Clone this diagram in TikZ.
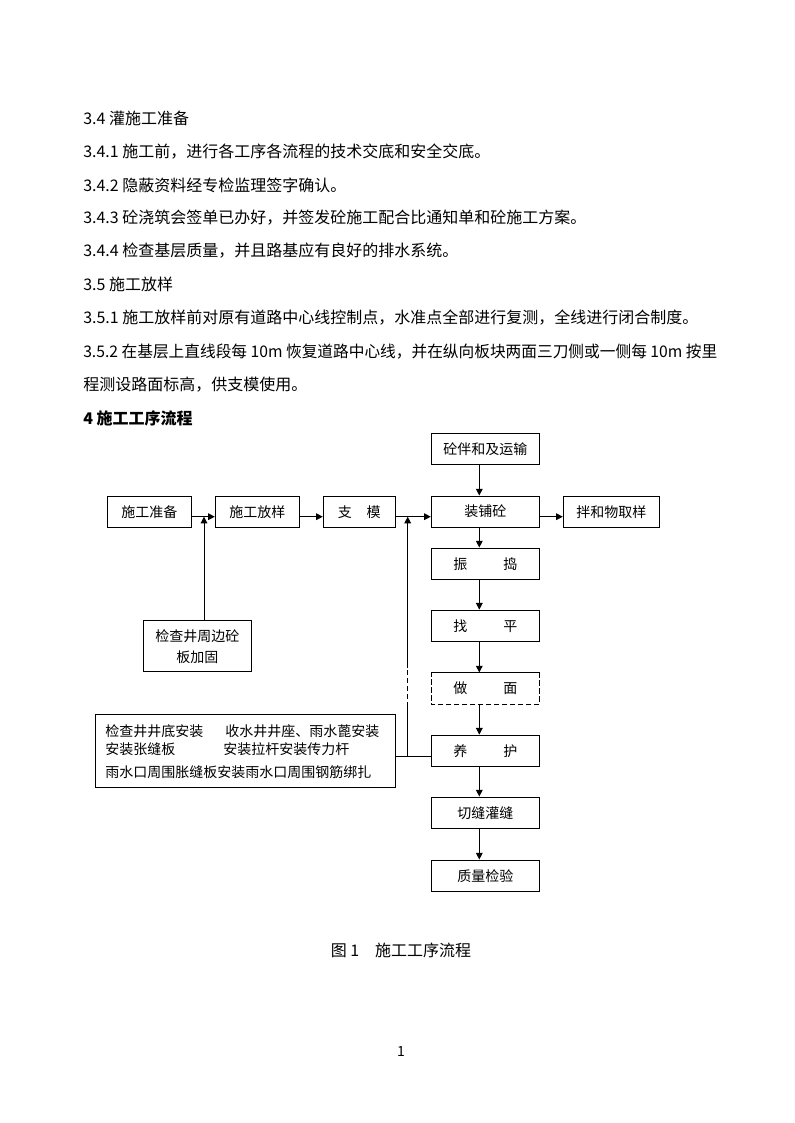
\documentclass[tikz,border=0pt]{standalone}
\usepackage{fontspec}
\setmainfont{Noto Sans CJK SC}
\usetikzlibrary{arrows.meta}
\begin{document}
\begin{tikzpicture}[x=0.75pt,y=-0.75pt,
  ln/.style={line width=0.75pt},
  arr/.style={line width=0.75pt,-{Triangle[length=5pt,width=5pt]}},
  box/.style={draw,line width=0.75pt,inner sep=0pt,minimum height=23.5pt,font=\fontsize{10.5}{12}\selectfont},
  nobox/.style={inner sep=0pt,minimum height=23.5pt,minimum width=81pt,font=\fontsize{10.5}{12}\selectfont},
  body/.style={anchor=west,inner sep=0pt,font=\fontsize{12}{14}\selectfont},
  small/.style={anchor=west,inner sep=0pt,font=\fontsize{10.5}{12}\selectfont},
  dsh/.style={line width=0.75pt,dash pattern=on 4pt off 2pt}]
\useasboundingbox[fill=white] (0,0) rectangle (794,1123);

% body text
\node[body] (t1) at (83,118) {3.4 灌施工准备};
\node[body] (t2) at (83,152) {3.4.1 施工前，进行各工序各流程的技术交底和安全交底。};
\node[body] (t3) at (83,185) {3.4.2 隐蔽资料经专检监理签字确认。};
\node[body] (t4) at (83,218) {3.4.3 砼浇筑会签单已办好，并签发砼施工配合比通知单和砼施工方案。};
\node[body] (t5) at (83,251) {3.4.4 检查基层质量，并且路基应有良好的排水系统。};
\node[body] (t6) at (83,284) {3.5 施工放样};
\node[body] (t7) at (83,318) {3.5.1 施工放样前对原有道路中心线控制点，水准点全部进行复测，全线进行闭合制度。};
\node[body] (t8) at (83,352) {\resizebox{475.5pt}{\height}{3.5.2 在基层上直线段每 10m 恢复道路中心线，并在纵向板块两面三刀侧或一侧每 10m 按里}};
\node[body] (t9) at (83,385) {程测设路面标高，供支模使用。};
\node[body,font=\fontsize{12}{14}\selectfont\bfseries] (t10) at (83,418) {4 施工工序流程};

% flowchart boxes
\node[box,minimum width=63pt] (prep) at (149.3,511.7) {施工准备};
\node[box,minimum width=63pt] (fang) at (257.3,511.7) {施工放样};
\node[box,minimum width=54pt] (zhi) at (359.3,511.7) {支\hspace{11pt}模};
\node[box,minimum width=81pt] (hun) at (485.3,448.8) {砼伴和及运输};
\node[box,minimum width=81pt] (pu) at (485.3,511.7) {装铺砼};
\node[box,minimum width=72pt] (qy) at (611.3,511.7) {拌和物取样};
\node[box,minimum width=81pt] (zd) at (485.3,563.7) {振\hspace{27pt}捣};
\node[box,minimum width=81pt] (zp) at (485.3,625.8) {找\hspace{27pt}平};
\node[nobox] (zm) at (485.3,688.4) {做\hspace{27pt}面};
\node[box,minimum width=81pt] (yh) at (485.3,750.8) {养\hspace{27pt}护};
\node[box,minimum width=81pt] (qf) at (485.3,812.7) {切缝灌缝};
\node[box,minimum width=81pt] (zl) at (485.3,875.7) {质量检验};
\node[box,minimum width=81pt,minimum height=38.5pt,align=center,
      font=\fontsize{10.5}{15.75}\selectfont] (jc) at (197.3,646.3) {检查井周边砼\\板加固};
\node[draw,line width=0.75pt,inner sep=0pt,minimum width=225pt,minimum height=55pt] (big) at (245.3,751) {};
\node[small] (b1) at (105,731) {检查井井底安装};
\node[small] (b2) at (225,731) {收水井井座、雨水蓖安装};
\node[small] (b3) at (105,749.3) {安装张缝板};
\node[small] (b4) at (223,749.3) {安装拉杆安装传力杆};
\node[small] (b5) at (105,772) {雨水口周围胀缝板安装雨水口周围钢筋绑扎};

% dashed box for 做面
\draw[ln] (zm.north west) -- (zm.north east);
\draw[dsh] (zm.north east) -- (zm.south east) -- (zm.south west) -- (zm.north west);

% reference coordinates
\coordinate (hl) at (0,516.7);
\coordinate (vl) at (479.3,0);
\coordinate (yl) at (0,756.3);
\coordinate (j1) at (204,516.7);
\coordinate (j2) at (407.7,516.7);
\coordinate (d1) at (407.7,707);
\coordinate (d2) at (407.7,668);

% connectors
\draw[arr] (prep.east |- hl) -- (fang.west |- hl);
\draw[arr] (fang.east |- hl) -- (zhi.west |- hl);
\draw[arr] (zhi.east |- hl) -- (pu.west |- hl);
\draw[arr] (pu.east |- hl) -- (qy.west |- hl);
\draw[arr] (hun.south -| vl) -- (pu.north -| vl);
\draw[arr] (pu.south -| vl) -- (zd.north -| vl);
\draw[arr] (zd.south -| vl) -- (zp.north -| vl);
\draw[arr] (zp.south -| vl) -- (zm.north -| vl);
\draw[arr] (zm.south -| vl) -- (yh.north -| vl);
\draw[arr] (yh.south -| vl) -- (qf.north -| vl);
\draw[arr] (qf.south -| vl) -- (zl.north -| vl);
\draw[arr] (jc.north -| j1) -- (j1);
\draw[ln] (big.east |- yl) -- (yh.west |- yl);
\draw[ln] (j2 |- yl) -- (d1);
\draw[dsh] (d1) -- (d2);
\draw[arr] (d2) -- (j2);

% caption and page number
\node[inner sep=0pt,font=\fontsize{12}{14}\selectfont] (cap) at (401,950) {图 1　施工工序流程};
\node[inner sep=0pt,font=\fontsize{10.5}{12}\selectfont] (pg) at (401,1051) {1};
\end{tikzpicture}
\end{document}
